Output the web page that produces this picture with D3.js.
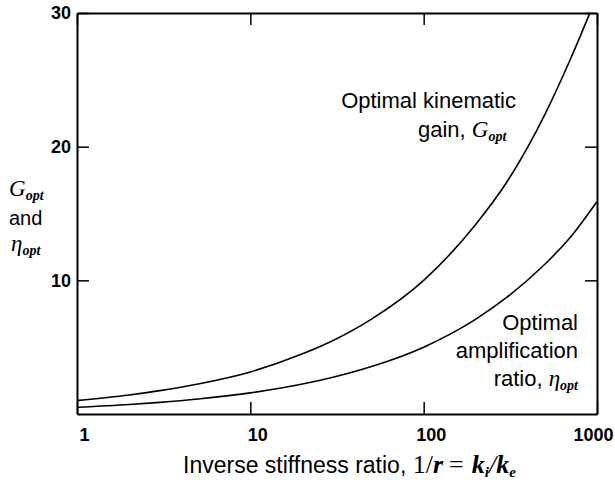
<!DOCTYPE html>
<html>
<head>
<meta charset="utf-8">
<script src="https://cdn.jsdelivr.net/npm/d3@7"></script>
<style>
  body { margin: 0; background: #fff; }
  .sans { font-family: Arial, "Liberation Sans", sans-serif; }
  .serif { font-family: "Times New Roman", "Liberation Serif", serif; }
  .axis text { font-family: Arial, "Liberation Sans", sans-serif; font-weight: bold; font-size: 18px; fill: #000; }
</style>
</head>
<body>
<div id="chart"></div>
<script>
// data
var xVals   = [1, 2, 3, 5, 10, 20, 30, 50, 100, 200, 300, 500, 700, 910];
var gainOpt = [1.0, 1.42, 1.75, 2.25, 3.15, 4.5, 5.5, 7.1, 10, 14.2, 17.3, 22.4, 26.5, 30];
var xVals2  = [1, 2, 3, 5, 10, 20, 30, 50, 100, 200, 300, 500, 700, 1000];
var etaOpt  = [0.5, 0.71, 0.87, 1.12, 1.58, 2.24, 2.75, 3.55, 5.0, 7.1, 8.7, 11.2, 13.2, 15.9];
var xTicks  = [1, 10, 100, 1000];
var yTicks  = [10, 20, 30];

var width = 615, height = 480;
var margin = {top: 13, right: 18, bottom: 66, left: 77};
var w = width - margin.left - margin.right,
    h = height - margin.top - margin.bottom;

var svg = d3.select("#chart").append("svg")
    .attr("width", width)
    .attr("height", height)
  .append("g")
    .attr("transform", "translate(" + margin.left + "," + margin.top + ")");

var xScale = d3.scaleLog().domain([1, 1000]).range([0, w]);
var yScale = d3.scaleLinear().domain([0, 30]).range([h, 0]);

// bottom axis with labels, ticks pointing in
var xAxis = svg.append("g")
    .attr("class", "axis")
    .attr("transform", "translate(0," + h + ")")
    .call(d3.axisBottom(xScale).tickValues(xTicks).tickSize(-12).tickSizeOuter(0).tickPadding(14).tickFormat(d3.format("d")));
xAxis.selectAll("text").attr("dx", function(d) { return d == 1000 ? -4 : 7; });

svg.append("g")
    .attr("class", "axis")
    .call(d3.axisTop(xScale).tickValues(xTicks).tickSize(-12).tickSizeOuter(0).tickFormat(""));

svg.append("g")
    .attr("class", "axis")
    .call(d3.axisLeft(yScale).tickValues(yTicks).tickSize(-12).tickSizeOuter(0).tickPadding(6));

svg.append("g")
    .attr("class", "axis")
    .attr("transform", "translate(" + w + ",0)")
    .call(d3.axisRight(yScale).tickValues(yTicks).tickSize(-12).tickSizeOuter(0).tickFormat(""));

svg.selectAll(".axis path.domain").attr("stroke", "#000").attr("stroke-width", 2);
svg.selectAll(".axis line").attr("stroke", "#000").attr("stroke-width", 1.5);

// curves
var line = d3.line()
    .x(function(d) { return xScale(d[0]); })
    .y(function(d) { return yScale(d[1]); })
    .curve(d3.curveMonotoneX);

svg.append("path")
    .datum(d3.zip(xVals, gainOpt))
    .attr("fill", "none")
    .attr("stroke", "#000")
    .attr("stroke-width", 1.6)
    .attr("d", line);

svg.append("path")
    .datum(d3.zip(xVals2, etaOpt))
    .attr("fill", "none")
    .attr("stroke", "#000")
    .attr("stroke-width", 1.6)
    .attr("d", line);

// labels (page coordinates)
var root = d3.select("svg");

function sub(t, main, s) {
  t.append("tspan").attr("class", "serif").attr("font-style", "italic").attr("font-size", 23).text(main);
  t.append("tspan").attr("class", "serif").attr("font-style", "italic").attr("font-weight", "bold")
    .attr("font-size", 14).attr("dy", 4).text(s);
}

// y label
var gl = root.append("text").attr("x", 9).attr("y", 196);
sub(gl, "G", "opt");
root.append("text").attr("class", "sans").attr("x", 9).attr("y", 225).attr("font-size", 20).text("and");
var el = root.append("text").attr("x", 11).attr("y", 251);
sub(el, "\u03b7", "opt");

// upper annotation
root.append("text").attr("class", "sans").attr("x", 516).attr("y", 108)
    .attr("text-anchor", "end").attr("font-size", 22).text("Optimal kinematic");
var ga = root.append("text").attr("x", 418).attr("y", 137);
ga.append("tspan").attr("class", "sans").attr("font-size", 22).text("gain, ");
sub(ga, "G", "opt");

// lower annotation
root.append("text").attr("class", "sans").attr("x", 578).attr("y", 330)
    .attr("text-anchor", "end").attr("font-size", 22).text("Optimal");
root.append("text").attr("class", "sans").attr("x", 578).attr("y", 358)
    .attr("text-anchor", "end").attr("font-size", 22).text("amplification");
var ra = root.append("text").attr("x", 578).attr("y", 386).attr("text-anchor", "end");
ra.append("tspan").attr("class", "sans").attr("font-size", 22).text("ratio, ");
sub(ra, "\u03b7", "opt");

// x title
var xt = root.append("text").attr("x", 183).attr("y", 473);
xt.append("tspan").attr("class", "sans").attr("font-size", 23).text("Inverse stiffness ratio, ");
xt.append("tspan").attr("class", "serif").attr("font-size", 26).text("1/");
xt.append("tspan").attr("class", "serif").attr("font-size", 26).attr("font-style", "italic").attr("font-weight", "bold").text("r");
xt.append("tspan").attr("class", "serif").attr("font-size", 26).attr("dx", 6).text("=");
xt.append("tspan").attr("class", "serif").attr("font-size", 26).attr("font-style", "italic").attr("font-weight", "bold").attr("dx", 8).text("k");
xt.append("tspan").attr("class", "serif").attr("font-size", 15).attr("font-style", "italic").attr("font-weight", "bold").attr("dy", 4).text("i");
xt.append("tspan").attr("class", "serif").attr("font-size", 26).attr("font-style", "italic").attr("dy", -4).text("/");
xt.append("tspan").attr("class", "serif").attr("font-size", 26).attr("font-style", "italic").attr("font-weight", "bold").text("k");
xt.append("tspan").attr("class", "serif").attr("font-size", 15).attr("font-style", "italic").attr("font-weight", "bold").attr("dy", 4).text("e");
</script>
</body>
</html>
